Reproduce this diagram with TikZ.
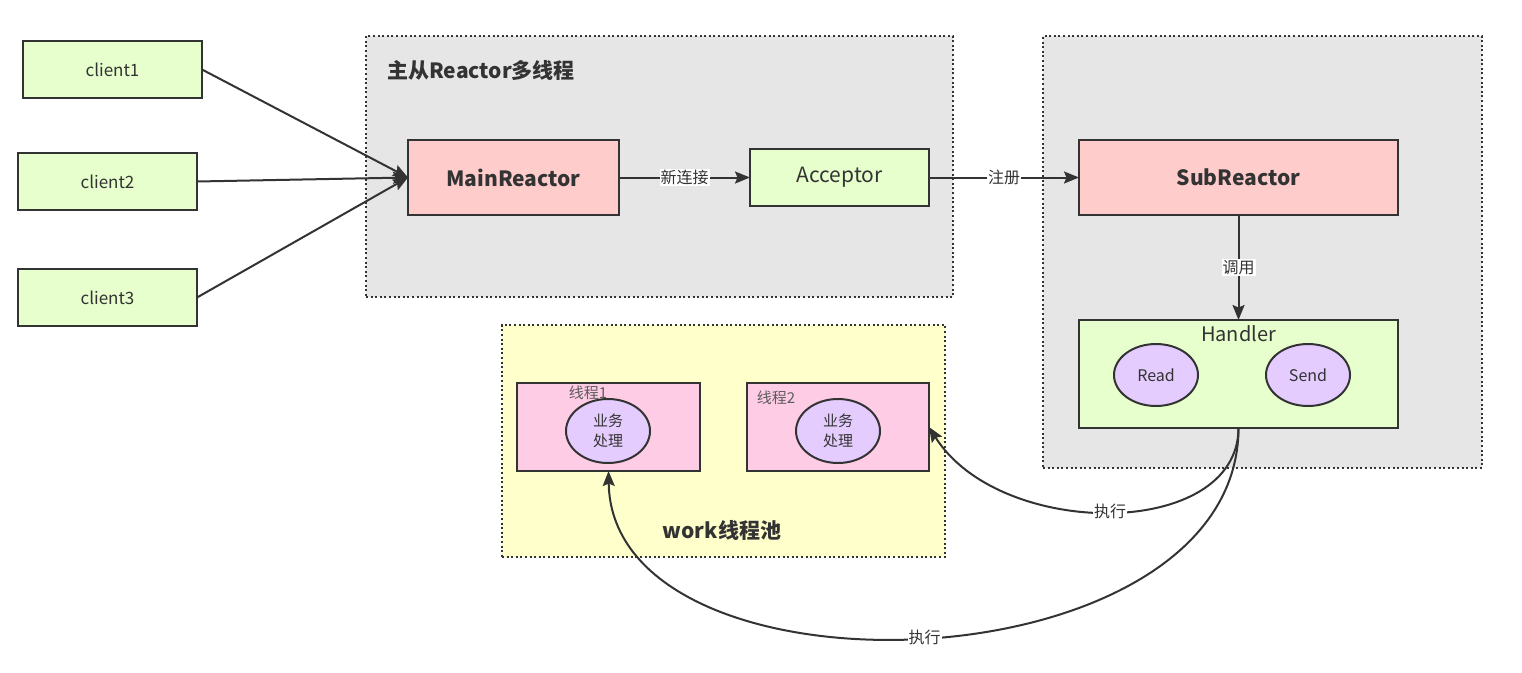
\documentclass[tikz,border=0pt]{standalone}
\usepackage{fontspec}
\setmainfont{Noto Sans CJK SC}
\usetikzlibrary{arrows.meta,shapes.geometric}
\definecolor{lc}{HTML}{333333}
\definecolor{txt}{HTML}{333333}
\definecolor{gbg}{HTML}{E6E6E6}
\definecolor{grn}{HTML}{E6FFCC}
\definecolor{rd}{HTML}{FFCCCC}
\definecolor{ylw}{HTML}{FFFFCC}
\definecolor{pnk}{HTML}{FFCCE6}
\definecolor{prp}{HTML}{E5CCFF}
\tikzset{
  box/.style={draw=lc, line width=2pt, inner sep=0pt, outer sep=0pt, text=txt},
  container/.style={draw=lc, line width=2pt, dash pattern=on 2pt off 2.6pt, inner sep=0pt, outer sep=0pt},
  ell/.style={box, ellipse, fill=prp, minimum width=84pt, minimum height=62pt, align=center},
  fs/.style={font=\fontsize{#1pt}{#1pt}\selectfont},
  fsb/.style={font=\fontsize{#1pt}{#1pt}\selectfont\bfseries},
  conn/.style={draw=lc, line width=2pt, -{Stealth[length=15pt,width=12pt,inset=2.5pt]}},
  lab/.style={fill=white, text=txt, inner sep=1pt, fs=16},
  plainlab/.style={text=txt, inner sep=0pt},
}
\begin{document}
\begin{tikzpicture}[x=1pt,y=-1pt]
\useasboundingbox (0,0) rectangle (1522,672);
% containers
\node[container, fill=gbg, minimum width=587pt, minimum height=261pt] (mainc) at (659.5,166.5) {};
\node[container, fill=gbg, minimum width=439pt, minimum height=432pt] (subc) at (1262.5,252) {};
\node[container, fill=ylw, minimum width=443pt, minimum height=232pt] (workc) at (723.5,441) {};
\node[plainlab, fsb=21, anchor=west] (maint) at (387,70) {主从Reactor多线程};
\node[plainlab, fsb=21] (workt) at (722,530) {work线程池};
% clients
\node[box, fill=grn, fs=17, minimum width=179pt, minimum height=57pt] (c1) at (112.5,69.5) {client1};
\node[box, fill=grn, fs=17, minimum width=179pt, minimum height=57pt] (c2) at (107.5,181.5) {client2};
\node[box, fill=grn, fs=17, minimum width=179pt, minimum height=57pt] (c3) at (107.5,297.5) {client3};
% main reactor etc
\node[box, fill=rd, fsb=21, minimum width=211pt, minimum height=75pt] (mr) at (513.5,177.5) {MainReactor};
\node[box, fill=grn, fs=21, minimum width=179pt, minimum height=57pt] (acc) at (839.5,177.5) {\raisebox{-2pt}{Acceptor}};
\node[box, fill=rd, fsb=21, minimum width=319pt, minimum height=75pt] (sr) at (1238.5,177.5) {SubReactor};
\node[box, fill=grn, minimum width=319pt, minimum height=108pt] (hd) at (1238.5,374) {};
\node[plainlab, fs=20] (hdt) at (1238.5,334) {Handler};
\node[ell, fs=16] (rdn) at (1156,375) {Read};
\node[ell, fs=16] (snd) at (1308,375) {Send};
% threads
\node[box, fill=pnk, minimum width=183pt, minimum height=88pt] (t1) at (608.5,427) {};
\node[box, fill=pnk, minimum width=182pt, minimum height=88pt] (t2) at (838,427) {};
\node[plainlab, fs=15, text=txt!80] (t1t) at (588,393) {线程1};
\node[plainlab, fs=15, text=txt!80] (t2t) at (776,398) {线程2};
\node[ell, font=\fontsize{15pt}{20pt}\selectfont, minimum width=84pt, minimum height=64pt, align=center] (e1) at (608,431) {业务\\处理};
\node[ell, font=\fontsize{15pt}{20pt}\selectfont, minimum width=84pt, minimum height=64pt, align=center] (e2) at (838,431) {业务\\处理};
% connectors
\draw[conn] (c1.east) -- (mr.west);
\draw[conn] (c2.east) -- (mr.west);
\draw[conn] (c3.east) -- (mr.west);
\draw[conn] (mr.east) -- node[lab] {新连接} (acc.west);
\draw[conn] (acc.east) -- node[lab] {注册} (sr.west);
\draw[conn] (sr.south) -- node[lab] {调用} (hd.north);
\draw[conn] (hd.south) .. controls (1238,540) and (1000,540) .. node[lab, pos=0.5] {执行} (t2.east);
\draw[conn] (hd.south) .. controls (1238,690) and (612,710) .. node[lab, pos=0.5] {执行} (t1.south);
\end{tikzpicture}
\end{document}
